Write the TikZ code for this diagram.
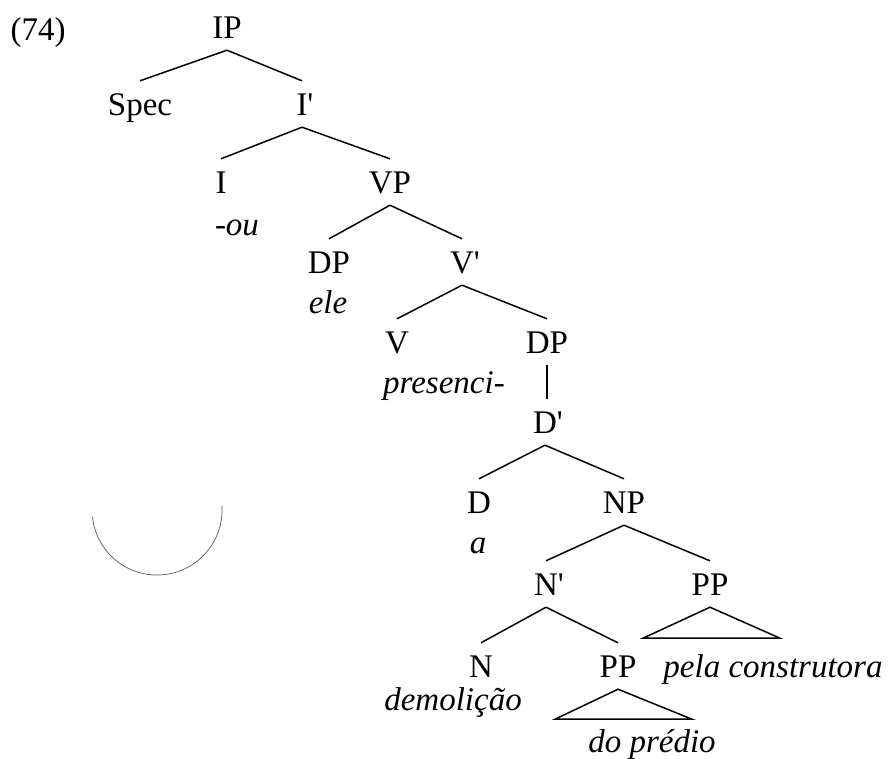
\documentclass[tikz,border=0pt]{standalone}
\usepackage{fontspec}
\newfontfamily\treefont{Liberation Serif}
\begin{document}
\begin{tikzpicture}[x=1pt,y=1pt,
  cat/.style={font=\treefont\fontsize{33}{40}\selectfont,text height=22pt,text depth=0pt,inner sep=12pt},
  lex/.style={font=\treefont\itshape\fontsize{33}{40}\selectfont,anchor=base,inner sep=0pt},
  exnum/.style={font=\treefont\fontsize{33}{40}\selectfont,anchor=base,inner sep=0pt},
  branch/.style={line width=1.5pt}]
\useasboundingbox (0,0) rectangle (889,-758);
\node[exnum] (ex) at (38,-40) {(74)};
\node[cat] (IP) at (227,-27) {IP};
\node[cat] (Spec) at (140,-104) {Spec};
\node[cat] (Ibar) at (302,-104) {I\rlap{'}};
\node[cat] (I) at (221,-182) {I};
\node[cat] (VP) at (390,-182) {VP};
\node[cat] (DPa) at (329,-262) {DP};
\node[cat] (Vbar) at (462,-262) {V\rlap{'}};
\node[cat] (V) at (397,-342) {V};
\node[cat] (DPb) at (547,-342) {DP};
\node[cat] (Dbar) at (545,-422) {D\rlap{'}};
\node[cat] (D) at (479,-502) {D};
\node[cat] (NP) at (624,-502) {NP};
\node[cat] (Nbar) at (546,-584) {N\rlap{'}};
\node[cat] (PPa) at (710,-584) {PP};
\node[cat] (N) at (481,-666) {N};
\node[cat] (PPb) at (618,-666) {PP};
% lexical material
\node[lex] (ou) at (237,-235) {-ou};
\node[lex] (ele) at (328,-313) {ele};
\node[lex] (presenci) at (444,-393) {presenci-};
\node[lex] (a) at (478,-553) {a};
\node[lex] (demolicao) at (453,-710) {demolição};
\node[lex] (pela) at (773,-677) {pela construtora};
\node[lex] (predio) at (652,-752) {do prédio};
% branches
\draw[branch] (IP.south)--(Spec.north);\draw[branch] (IP.south)--(Ibar.north);
\draw[branch] (Ibar.south)--(I.north);\draw[branch] (Ibar.south)--(VP.north);
\draw[branch] (VP.south)--(DPa.north);\draw[branch] (VP.south)--(Vbar.north);
\draw[branch] (Vbar.south)--(V.north);\draw[branch] (Vbar.south)--(DPb.north);
\draw[branch] (DPb.south)--(DPb.south |- Dbar.north);
\draw[branch] (Dbar.south)--(D.north);\draw[branch] (Dbar.south)--(NP.north);
\draw[branch] (NP.south)--(Nbar.north);\draw[branch] (NP.south)--(PPa.north);
\draw[branch] (Nbar.south)--(N.north);\draw[branch] (Nbar.south)--(PPb.north);
% triangles
\draw[branch] (PPa.south)--++(-67,-31)--++(137,0)--cycle;
\draw[branch] (PPb.south)--++(-63,-30)--++(137,0)--cycle;
% arc
\draw[gray!70!black,line width=0.7pt] (92.4,-516.8) arc[start angle=186,end angle=364,radius=65];
\end{tikzpicture}
\end{document}
